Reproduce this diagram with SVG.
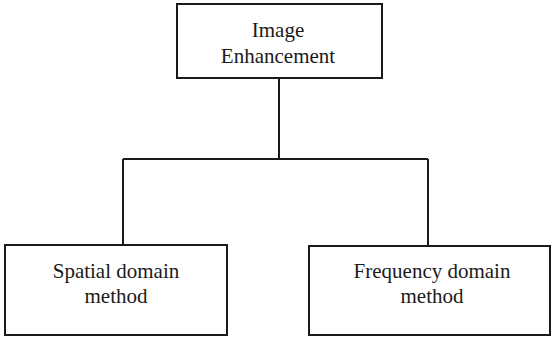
<svg xmlns="http://www.w3.org/2000/svg" width="552" height="338" viewBox="0 0 552 338">
<style>
.box{fill:#fff;stroke:#1a1a1a;stroke-width:2}
.lbl{font-family:'Liberation Serif','DejaVu Serif',serif;font-size:21px;fill:#1a1a1a;text-anchor:middle}
.conn{fill:none;stroke:#1a1a1a;stroke-width:2}
</style>
<rect width="552" height="338" fill="#fff"/>
<g id="connectors">
<path class="conn" d="M279,78 V159"/>
<path class="conn" d="M123,159 H428"/>
<path class="conn" d="M123,159 V245"/>
<path class="conn" d="M428,159 V246"/>
</g>
<g id="image-enhancement">
<rect class="box" x="177" y="4" width="205" height="74"/>
<text class="lbl" x="278" y="37">Image</text>
<text class="lbl" x="278" y="63">Enhancement</text>
</g>
<g id="spatial-domain">
<rect class="box" x="5" y="245" width="222" height="90"/>
<text class="lbl" x="116" y="278">Spatial domain</text>
<text class="lbl" x="116" y="303">method</text>
</g>
<g id="frequency-domain">
<rect class="box" x="309" y="246" width="241" height="89"/>
<text class="lbl" x="432" y="278">Frequency domain</text>
<text class="lbl" x="432" y="303">method</text>
</g>
</svg>
